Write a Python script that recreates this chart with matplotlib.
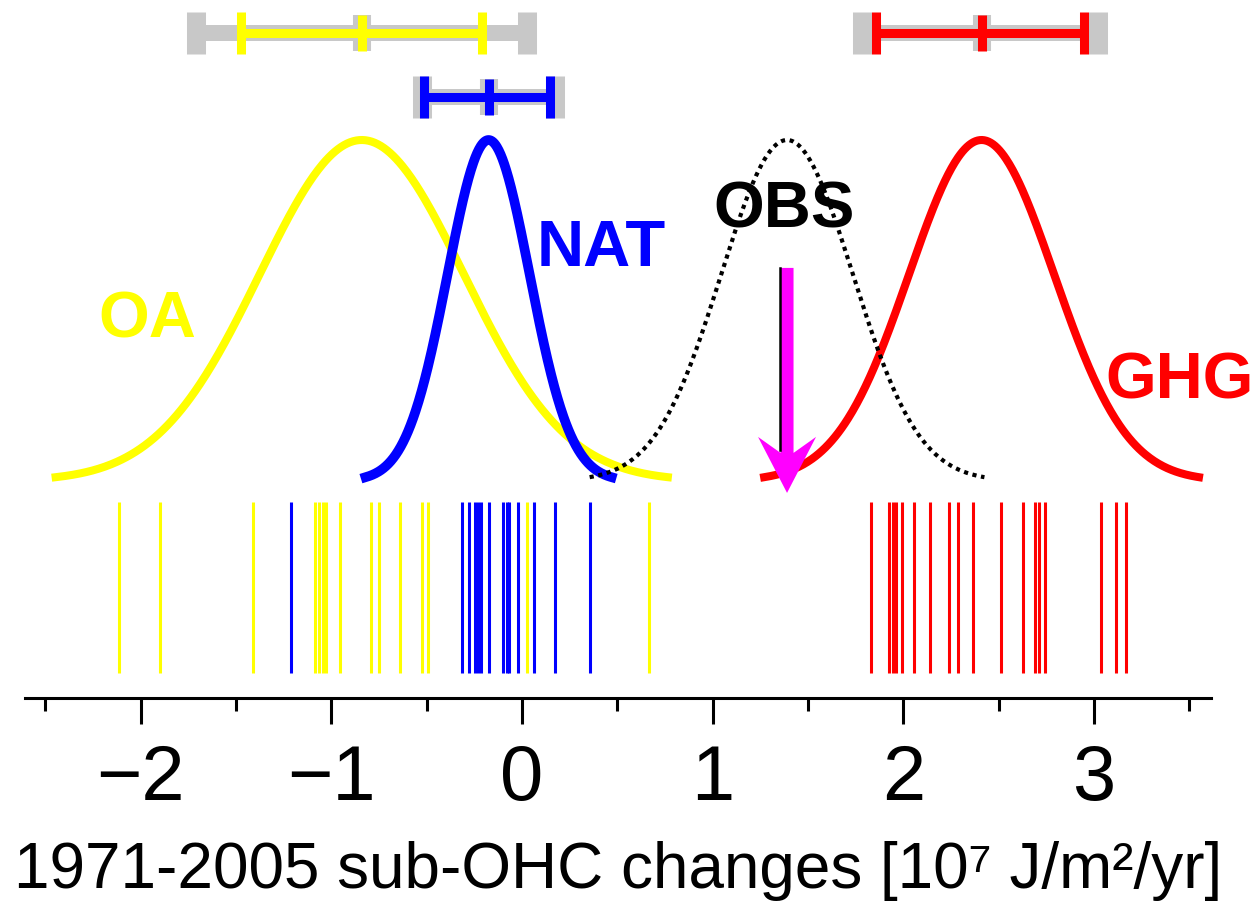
import numpy as np
import matplotlib.pyplot as plt
import matplotlib.transforms as mtransforms
from matplotlib.patches import Polygon
from matplotlib.ticker import MultipleLocator

plt.rcParams['font.family'] = ['Liberation Sans', 'DejaVu Sans']

# fitted distributions: mean, spread
dist_names = ['OA', 'NAT', 'GHG', 'OBS']
dist_mean = [-0.84, -0.175, 2.41, 1.39]
dist_sd = [0.535, 0.215, 0.38, 0.345]

# ranges shown on top (inner coloured bar, outer grey bar)
oa_inner = [-1.474, -0.207]
oa_outer = [-1.709, 0.029]
nat_inner = [-0.516, 0.149]
nat_outer = [-0.526, 0.175]
ghg_inner = [1.856, 2.945]
ghg_outer = [1.783, 3.018]

# individual model runs
oa_runs = [-2.111, -1.900, -1.411, -1.085, -1.064, -1.044, -1.028, -0.954,
           -0.792, -0.752, -0.640, -0.524, -0.493, 0.026, 0.666]
nat_runs = [-1.211, -0.314, -0.279, -0.246, -0.228, -0.213, -0.174, -0.097,
            -0.079, -0.066, -0.019, 0.065, 0.174, 0.357]
ghg_runs = [1.828, 1.927, 1.945, 1.961, 1.993, 2.054, 2.138, 2.239, 2.286,
            2.365, 2.511, 2.627, 2.690, 2.711, 2.743, 3.036, 3.115, 3.165]

YELLOW = '#ffff00'
BLUE = '#0000ff'
RED = '#ff0000'
GRAY = '#c8c8c8'
MAGENTA = '#ff00ff'

fig = plt.figure(figsize=(12.54, 9.02), dpi=100)
ax = fig.add_axes([0.0199, 0.2262, 0.9458, 0.7738])
ax.set_xlim(-2.606, 3.613)
ax.set_ylim(-0.6364, 1.4106)


def gauss_curve(m, s):
    x = np.linspace(m - 3 * s, m + 3 * s, 400)
    return x, np.exp(-0.5 * ((x - m) / s) ** 2)


# curves
x, y = gauss_curve(dist_mean[0], dist_sd[0])
ax.plot(x, y, color=YELLOW, lw=5.8, zorder=2)
x, y = gauss_curve(dist_mean[1], dist_sd[1])
ax.plot(x, y, color=BLUE, lw=7.0, zorder=3)
x, y = gauss_curve(dist_mean[2], dist_sd[2])
ax.plot(x, y, color=RED, lw=5.8, zorder=4)
x, y = gauss_curve(dist_mean[3], dist_sd[3])
ax.plot(x, y, color='black', lw=3.0, ls=(0, (1, 1.1)), zorder=5)

# rug of runs
ax.vlines(oa_runs, -0.563, -0.062, color=YELLOW, lw=2.2)
ax.vlines(nat_runs, -0.563, -0.062, color=BLUE, lw=2.2)
ax.vlines(ghg_runs, -0.563, -0.062, color=RED, lw=2.2)


def range_bar(mean, inner, outer, yrow, color):
    ax.plot(outer, [yrow, yrow], color=GRAY, lw=11.5, solid_capstyle='butt')
    ax.plot(outer, [yrow, yrow], ls='none', marker='|', ms=30, mew=13.7, color=GRAY)
    ax.plot([mean], [yrow], ls='none', marker='|', ms=26.6, mew=13, color=GRAY)
    ax.plot(inner, [yrow, yrow], color=color, lw=6.5, solid_capstyle='butt')
    ax.plot(inner, [yrow, yrow], ls='none', marker='|', ms=30, mew=6.5, color=color)
    ax.plot([mean], [yrow], ls='none', marker='|', ms=26.6, mew=6.5, color=color)


range_bar(dist_mean[0], oa_inner, oa_outer, 1.314, YELLOW)
range_bar(dist_mean[1], nat_inner, nat_outer, 1.126, BLUE)
range_bar(dist_mean[2], ghg_inner, ghg_outer, 1.314, RED)

# labels
lab = dict(fontsize=47, fontweight='bold', ha='center', va='baseline')
ax.text(-1.966, 0.422, 'OA', color=YELLOW, **lab)
ax.text(0.414, 0.630, 'NAT', color=BLUE, **lab)
ax.text(1.376, 0.742, 'OBS', color='black', zorder=4.5, **lab)
ax.text(3.45, 0.243, 'GHG', color=RED, clip_on=False, **lab)

# observed value arrow (pixel-shaped head anchored at the tip)
tip_y = -0.035
tip = mtransforms.ScaledTranslation(dist_mean[3], tip_y, ax.transData)
px = mtransforms.Affine2D().scale(1.0) + tip
head = [(0, 0), (-29, 56), (-6.5, 40), (-6.5, 225), (6.5, 225), (6.5, 40), (29, 56)]
ax.add_patch(Polygon(head, closed=True, facecolor=MAGENTA, edgecolor='none',
                     transform=px, zorder=7))
blk = mtransforms.offset_copy(ax.transData, fig=fig, x=-7.5, y=0, units='dots')
ax.plot([dist_mean[3], dist_mean[3]], [0.625, 0.09], color='black', lw=1.8,
        transform=blk, zorder=8)

# axes
for s in ['left', 'top', 'right']:
    ax.spines[s].set_visible(False)
ax.spines['bottom'].set_linewidth(2.2)
ax.set_yticks([])
ax.set_xticks([-2, -1, 0, 1, 2, 3])
ax.xaxis.set_minor_locator(MultipleLocator(0.5))
ax.tick_params(axis='x', which='major', length=18.7, width=2.2, pad=14, labelsize=56)
ax.tick_params(axis='x', which='minor', length=9.4, width=2.2)
ax.set_xlabel('1971-2005 sub-OHC changes [10⁷ J/m²/yr]', fontsize=46, labelpad=18)

fig.savefig('out.png', dpi=100)
